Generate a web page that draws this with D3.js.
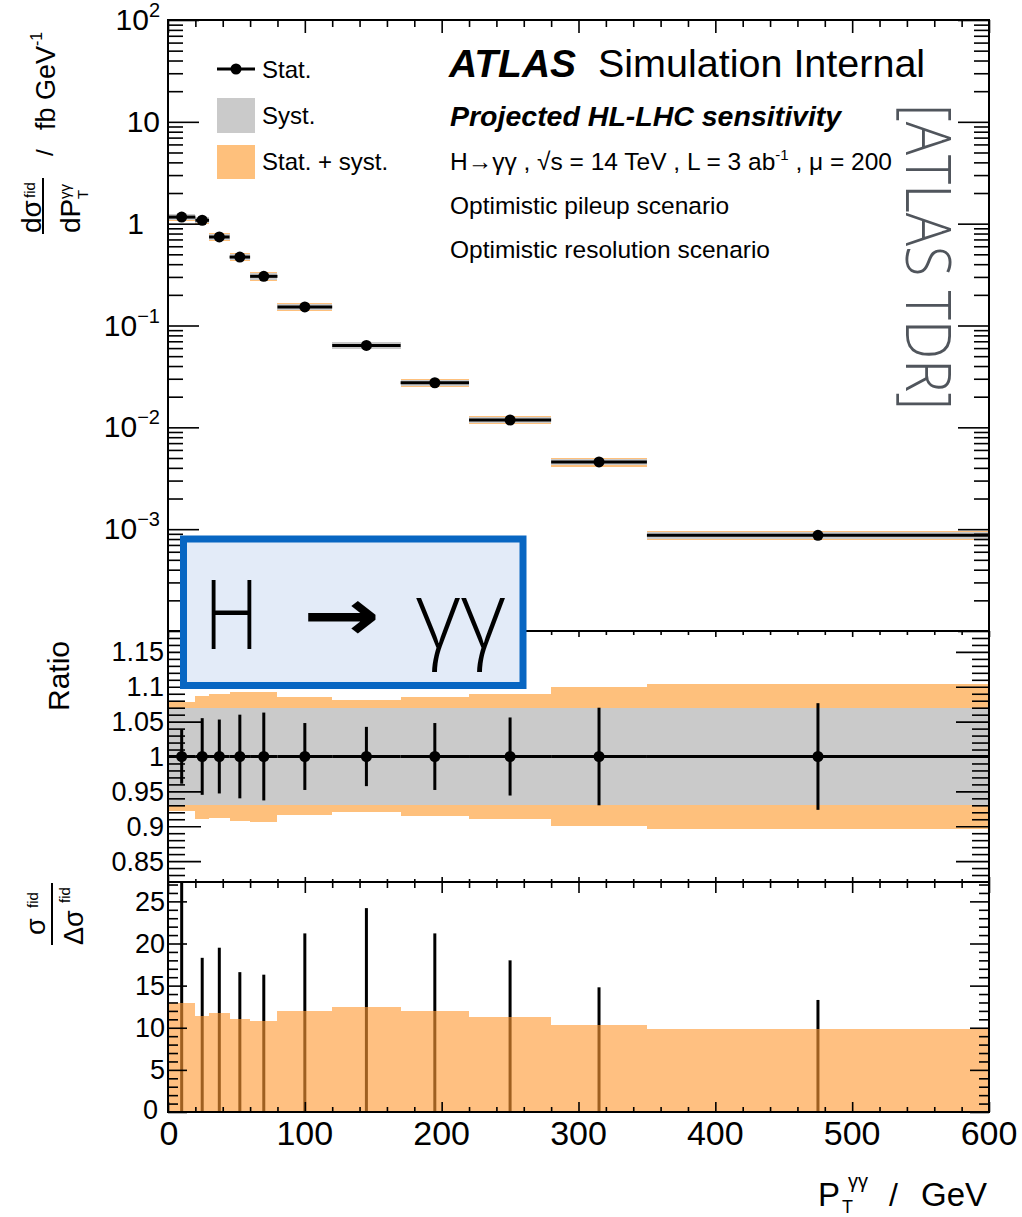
<!DOCTYPE html>
<html>
<head>
<meta charset="utf-8">
<script src="https://cdn.jsdelivr.net/npm/d3@7"></script>
<style>
body { margin: 0; background: #fff; }
text { font-family: "Liberation Sans", Arial, sans-serif; fill: #000; }
</style>
</head>
<body>
<div id="vis"></div>
<script>
var binEdges = [0, 20, 30, 45, 60, 80, 120, 170, 220, 280, 350, 600];
var xsec     = [1.16, 1.08, 0.74, 0.47, 0.304, 0.152, 0.0637, 0.0274, 0.0118, 0.00457, 0.00087];
var statRel  = [0.039, 0.055, 0.053, 0.060, 0.063, 0.048, 0.0425, 0.048, 0.056, 0.070, 0.0765];
var systRel  = [0.07, 0.07, 0.07, 0.07, 0.07, 0.07, 0.07, 0.07, 0.07, 0.07, 0.07];
var totUp    = [1.078, 1.087, 1.089, 1.092, 1.0925, 1.085, 1.081, 1.085, 1.090, 1.099, 1.104];
var totDn    = [0.922, 0.910, 0.912, 0.908, 0.9055, 0.9155, 0.920, 0.915, 0.910, 0.901, 0.896];
var sigStat  = [28.5, 18.3, 19.5, 16.6, 16.3, 21.2, 24.2, 21.2, 18.0, 14.8, 13.3];
var sigTot   = [12.9, 11.4, 11.7, 11.0, 10.8, 12.0, 12.5, 12.0, 11.3, 10.3, 9.8];

// tick labels
var xTickLabels   = [0, 100, 200, 300, 400, 500, 600];
var topTickLabels = [1e2, 1e1, 1, 1e-1, 1e-2, 1e-3];
var ratTickLabels = [0.85, 0.9, 0.95, 1, 1.05, 1.1, 1.15];
var botTickLabels = [0, 5, 10, 15, 20, 25];

var bins = binEdges.slice(0, -1).map(function(lo, i) {
  return {lo: lo, hi: binEdges[i + 1], c: (lo + binEdges[i + 1]) / 2,
          v: xsec[i], stat: statRel[i], syst: systRel[i],
          up: totUp[i], dn: totDn[i], sS: sigStat[i], sT: sigTot[i]};
});

var ORANGE = '#fec07c', GRAY = '#cacaca';
var X0 = 168, X1 = 989;

svg = d3.select('#vis').append('svg')
  .attr('width', 1022)
  .attr('height', 1217);

var x = d3.scaleLinear().domain([0, 600]).range([X0, X1]);
var yTop = d3.scaleLog().domain([1e-4, 1e2]).range([631, 20]);
var yRat = d3.scaleLinear().domain([0.82, 1.18]).range([882, 631]);
var yBot = d3.scaleLinear().domain([0, 27.3]).range([1112, 882]).clamp(true);

// minor tick lists
var xMinor = d3.range(20, 600, 20).filter(function(d) { return d % 100 !== 0; });
var topMinor = [];
[-4, -3, -2, -1, 0, 1].forEach(function(e) {
  for (var k = 2; k <= 9; k++) topMinor.push(k * Math.pow(10, e));
});
var ratMinor = d3.range(83, 118, 1).filter(function(d) { return d % 5 !== 0; }).map(function(d) { return d / 100; });
var botMinor = d3.range(1, 28).filter(function(d) { return d % 5 !== 0; });

// inward ticks on both vertical sides
function yTicks(scale, vals, len) {
  svg.append('g').attr('class', 'tk').attr('transform', 'translate(' + X0 + ',0)')
    .call(d3.axisLeft(scale).tickValues(vals).tickSize(-len).tickSizeOuter(0).tickFormat(''));
  svg.append('g').attr('class', 'tk').attr('transform', 'translate(' + X1 + ',0)')
    .call(d3.axisRight(scale).tickValues(vals).tickSize(-len).tickSizeOuter(0).tickFormat(''));
}
// ticks along a horizontal edge, dir = 1 points down, -1 points up
function xTicks(yPos, vals, len, dir) {
  var ax = dir > 0 ? d3.axisTop(x) : d3.axisBottom(x);
  svg.append('g').attr('class', 'tk').attr('transform', 'translate(0,' + yPos + ')')
    .call(ax.tickValues(vals).tickSize(-len).tickSizeOuter(0).tickFormat(''));
}
function frame(y0, y1) {
  svg.append('rect').attr('x', X0).attr('y', y0).attr('width', X1 - X0).attr('height', y1 - y0)
    .attr('fill', 'none').attr('stroke', '#000').attr('stroke-width', 2);
}

// ---------- top panel ----------
var gTop = svg.append('g');
gTop.selectAll('.tot').data(bins).enter().append('rect')
  .attr('x', function(d) { return x(d.lo); })
  .attr('width', function(d) { return x(d.hi) - x(d.lo); })
  .attr('y', function(d) { return yTop(d.v * d.up); })
  .attr('height', function(d) { return yTop(d.v * d.dn) - yTop(d.v * d.up); })
  .attr('fill', ORANGE);
gTop.selectAll('.sys').data(bins).enter().append('rect')
  .attr('x', function(d) { return x(d.lo); })
  .attr('width', function(d) { return x(d.hi) - x(d.lo); })
  .attr('y', function(d) { return yTop(d.v * (1 + d.syst)); })
  .attr('height', function(d) { return yTop(d.v * (1 - d.syst)) - yTop(d.v * (1 + d.syst)); })
  .attr('fill', GRAY);
gTop.selectAll('.hbar').data(bins).enter().append('line')
  .attr('x1', function(d) { return x(d.lo); }).attr('x2', function(d) { return x(d.hi); })
  .attr('y1', function(d) { return yTop(d.v); }).attr('y2', function(d) { return yTop(d.v); })
  .attr('stroke', '#000').attr('stroke-width', 3);
gTop.selectAll('.vbar').data(bins).enter().append('line')
  .attr('x1', function(d) { return x(d.c); }).attr('x2', function(d) { return x(d.c); })
  .attr('y1', function(d) { return yTop(d.v * (1 + d.stat)); })
  .attr('y2', function(d) { return yTop(d.v * (1 - d.stat)); })
  .attr('stroke', '#000').attr('stroke-width', 3);
gTop.selectAll('circle').data(bins).enter().append('circle')
  .attr('cx', function(d) { return x(d.c); }).attr('cy', function(d) { return yTop(d.v); })
  .attr('r', 5.5).attr('fill', '#000');

yTicks(yTop, topTickLabels.concat([1e-4]), 31);
yTicks(yTop, topMinor, 15);
xTicks(20, xTickLabels, 13, 1);
xTicks(20, xMinor, 7, 1);
frame(20, 631);

topTickLabels.forEach(function(v) {
  var e = Math.round(Math.log10(v));
  var t = svg.append('text').attr('text-anchor', 'end').attr('x', e === 0 ? 144 : 160)
    .attr('y', yTop(v) + 10).style('font-size', '30px');
  if (e === 0) t.text('1');
  else if (e === 1) t.text('10');
  else {
    t.append('tspan').text('10');
    t.append('tspan').attr('dy', -13).style('font-size', '20px').text(e < 0 ? '\u2212' + (-e) : e);
  }
});

// ---------- ratio panel ----------
var gRat = svg.append('g');
gRat.selectAll('.tot').data(bins).enter().append('rect')
  .attr('x', function(d) { return x(d.lo); })
  .attr('width', function(d) { return x(d.hi) - x(d.lo); })
  .attr('y', function(d) { return yRat(d.up); })
  .attr('height', function(d) { return yRat(d.dn) - yRat(d.up); })
  .attr('fill', ORANGE);
gRat.selectAll('.sys').data(bins).enter().append('rect')
  .attr('x', function(d) { return x(d.lo); })
  .attr('width', function(d) { return x(d.hi) - x(d.lo); })
  .attr('y', function(d) { return yRat(1 + d.syst); })
  .attr('height', function(d) { return yRat(1 - d.syst) - yRat(1 + d.syst); })
  .attr('fill', GRAY);

yTicks(yRat, ratTickLabels, 33);
yTicks(yRat, ratMinor, 17);
xTicks(631, xTickLabels, 6, 1);
xTicks(631, xMinor, 4, 1);
xTicks(882, xTickLabels, 5, -1);
xTicks(882, xMinor, 3, -1);

gRat.selectAll('.hbar').data(bins).enter().append('line')
  .attr('x1', function(d) { return x(d.lo); }).attr('x2', function(d) { return x(d.hi); })
  .attr('y1', yRat(1)).attr('y2', yRat(1))
  .attr('stroke', '#000').attr('stroke-width', 3);
gRat.selectAll('.vbar').data(bins).enter().append('line')
  .attr('x1', function(d) { return x(d.c); }).attr('x2', function(d) { return x(d.c); })
  .attr('y1', function(d) { return yRat(1 + d.stat); })
  .attr('y2', function(d) { return yRat(1 - d.stat); })
  .attr('stroke', '#000').attr('stroke-width', 3);
gRat.selectAll('circle').data(bins).enter().append('circle')
  .attr('cx', function(d) { return x(d.c); }).attr('cy', yRat(1))
  .attr('r', 5.5).attr('fill', '#000');
frame(631, 882);

ratTickLabels.forEach(function(v) {
  svg.append('text').attr('text-anchor', 'end').attr('x', 164).attr('y', yRat(v) + 9.5)
    .style('font-size', '27px').text(String(+v.toFixed(2)));
});

// ---------- significance panel ----------
var gBot = svg.append('g');
gBot.selectAll('.vbar').data(bins).enter().append('line')
  .attr('x1', function(d) { return x(d.c); }).attr('x2', function(d) { return x(d.c); })
  .attr('y1', yBot(0))
  .attr('y2', function(d) { return yBot(d.sS); })
  .attr('stroke', '#000').attr('stroke-width', 3);

yTicks(yBot, botTickLabels, 19);
yTicks(yBot, botMinor, 10);
xTicks(882, xTickLabels, 11, 1);
xTicks(882, xMinor, 6, 1);
xTicks(1112, xTickLabels, 10, -1);
xTicks(1112, xMinor, 5, -1);
frame(882, 1112);

gBot.selectAll('.tot').data(bins).enter().append('rect')
  .attr('x', function(d) { return x(d.lo); })
  .attr('width', function(d) { return x(d.hi) - x(d.lo); })
  .attr('y', function(d) { return yBot(d.sT); })
  .attr('height', function(d) { return yBot(0) - yBot(d.sT); })
  .attr('fill', '#ff9a33').attr('fill-opacity', 0.62);

svg.selectAll('rect').attr('shape-rendering', 'crispEdges');

botTickLabels.forEach(function(v) {
  svg.append('text').attr('text-anchor', 'end').attr('x', v === 0 ? 158 : 165)
    .attr('y', yBot(v) + (v === 0 ? 7 : 9.5))
    .style('font-size', '27px').text(v);
});
xTickLabels.forEach(function(v) {
  svg.append('text').attr('text-anchor', 'middle').attr('x', x(v) + (v === 0 ? 1 : 0)).attr('y', 1145)
    .style('font-size', '34px').text(v);
});

svg.selectAll('.tk .domain').remove();
svg.selectAll('.tk text').remove();
svg.selectAll('.tk line').attr('stroke', '#000').attr('stroke-width', 1.6);

// ---------- axis titles ----------
var gy = svg.append('g').attr('transform', 'translate(45,236) rotate(-90)');
gy.append('text').attr('x', 3).attr('y', -4).style('font-size', '28px').text('d\u03c3');
gy.append('text').attr('x', 38).attr('y', -10).style('font-size', '15px').text('fid');
gy.append('line').attr('x1', 2).attr('x2', 58).attr('y1', -2).attr('y2', -2)
  .attr('stroke', '#000').attr('stroke-width', 2);
gy.append('text').attr('x', 3).attr('y', 35).style('font-size', '28px').text('dP');
gy.append('text').attr('x', 37).attr('y', 25).style('font-size', '15px').text('\u03b3\u03b3');
gy.append('text').attr('x', 37).attr('y', 43).style('font-size', '15px').text('T');
gy.append('text').attr('x', 80).attr('y', 8).style('font-size', '24px').text('/');
var fb = gy.append('text').attr('x', 106).attr('y', 10).style('font-size', '27px');
fb.append('tspan').text('fb GeV');
fb.append('tspan').attr('dy', -13).style('font-size', '16px').text('-1');

svg.append('text').attr('transform', 'translate(69,711) rotate(-90)')
  .style('font-size', '30px').text('Ratio');

var gs = svg.append('g').attr('transform', 'translate(52,945) rotate(-90)');
gs.append('text').attr('x', 10).attr('y', -7).style('font-size', '27px').text('\u03c3');
gs.append('text').attr('x', 37).attr('y', -14).style('font-size', '15px').text('fid');
gs.append('line').attr('x1', 0).attr('x2', 62).attr('y1', 0).attr('y2', 0)
  .attr('stroke', '#000').attr('stroke-width', 2);
gs.append('text').attr('x', 0).attr('y', 31).style('font-size', '27px').text('\u0394\u03c3');
gs.append('text').attr('x', 42).attr('y', 18).style('font-size', '15px').text('fid');

svg.append('text').attr('x', 818).attr('y', 1206).style('font-size', '33px').text('P');
svg.append('text').attr('x', 842).attr('y', 1213).style('font-size', '18px').text('T');
svg.append('text').attr('x', 848).attr('y', 1188).style('font-size', '20px').text('\u03b3\u03b3');
svg.append('text').attr('x', 889).attr('y', 1206).style('font-size', '32px').text('/');
svg.append('text').attr('x', 921).attr('y', 1206).style('font-size', '33px').text('GeV');

// ---------- legend ----------
svg.append('line').attr('x1', 217).attr('x2', 255).attr('y1', 69).attr('y2', 69)
  .attr('stroke', '#000').attr('stroke-width', 3);
svg.append('circle').attr('cx', 236).attr('cy', 69).attr('r', 5.5).attr('fill', '#000');
svg.append('rect').attr('x', 217).attr('y', 98).attr('width', 38).attr('height', 35).attr('fill', GRAY);
svg.append('rect').attr('x', 217).attr('y', 145).attr('width', 38).attr('height', 34).attr('fill', ORANGE);
svg.append('text').attr('x', 262).attr('y', 78).style('font-size', '24px').text('Stat.');
svg.append('text').attr('x', 262).attr('y', 124).style('font-size', '24px').text('Syst.');
svg.append('text').attr('x', 262).attr('y', 170).style('font-size', '24px').text('Stat. + syst.');

// ---------- labels ----------
svg.append('text').attr('x', 449).attr('y', 77).style('font-size', '39px')
  .style('font-weight', 'bold').style('font-style', 'italic').text('ATLAS');
svg.append('text').attr('x', 598).attr('y', 77).style('font-size', '39.5px').text('Simulation Internal');
svg.append('text').attr('x', 450).attr('y', 126).style('font-size', '28.5px')
  .style('font-weight', 'bold').style('font-style', 'italic').text('Projected HL-LHC sensitivity');
var info = svg.append('text').attr('x', 450).attr('y', 170).style('font-size', '24.5px');
info.append('tspan').text('H\u2192\u03b3\u03b3 , \u221as = 14 TeV , L = 3 ab');
info.append('tspan').attr('dy', -10).style('font-size', '15px').text('-1');
info.append('tspan').attr('dy', 10).text(' , \u03bc = 200');
svg.append('text').attr('x', 450).attr('y', 214).style('font-size', '24.5px').text('Optimistic pileup scenario');
svg.append('text').attr('x', 450).attr('y', 258).style('font-size', '24.5px').text('Optimistic resolution scenario');

svg.append('text').attr('transform', 'translate(906,104) rotate(90)')
  .attr('textLength', 306).attr('lengthAdjust', 'spacingAndGlyphs')
  .style('font-family', '"Open Sans", sans-serif').style('font-weight', 300)
  .style('font-size', '62px').style('fill', '#50555c').text('[ATLAS TDR]');

// ---------- overlay box ----------
svg.append('rect').attr('x', 183.5).attr('y', 539).attr('width', 339.5).attr('height', 146.5)
  .attr('fill', '#e3ebf8').attr('stroke', '#0866c2').attr('stroke-width', 7);
svg.append('text').attr('x', 204).attr('y', 649).attr('textLength', 55).attr('lengthAdjust', 'spacingAndGlyphs')
  .style('font-family', '"Open Sans", sans-serif').style('font-weight', 300).style('font-size', '96px').text('H');
svg.append('text').attr('x', 303).attr('y', 640).attr('textLength', 77).attr('lengthAdjust', 'spacingAndGlyphs')
  .style('font-family', '"DejaVu Sans", sans-serif').style('font-weight', 'bold').style('font-size', '72px').text('\u2192');
svg.append('text').attr('x', 416).attr('y', 649).attr('textLength', 90).attr('lengthAdjust', 'spacingAndGlyphs')
  .style('font-family', '"Open Sans", sans-serif').style('font-weight', 300).style('font-size', '96px').text('\u03b3\u03b3');
</script>
</body>
</html>
